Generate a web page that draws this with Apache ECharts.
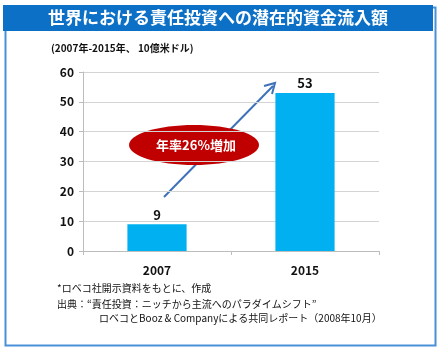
<!DOCTYPE html>
<html><head><meta charset="utf-8">
<script src="https://cdn.jsdelivr.net/npm/echarts@6/dist/echarts.min.js"></script>
<style>html,body{margin:0;padding:0;background:#fff}#c{width:437px;height:351px}</style>
</head><body><div id="c"></div>
<script>
const categories = ['2007', '2015'];
const values = [9, 53];
const yTicks = [0, 10, 20, 30, 40, 50, 60];
const titleText = '世界における責任投資への潜在的資金流入額';
const unitText = '(2007年-2015年、 10億米ドル)';
const badgeText = '年率26%増加';
const notes = ['*ロベコ社開示資料をもとに、作成', '出典：“責任投資：ニッチから主流へのパラダイムシフト”', 'ロベコとBooz & Companyによる共同レポート（2008年10月）'];

const font = '"Noto Sans CJK JP", "Noto Sans", sans-serif';
const chart = echarts.init(document.getElementById('c'));
chart.setOption({
  animation: false,
  grid: {left: 83, right: 58, top: 72, bottom: 100},
  xAxis: {
    type: 'category', data: categories,
    axisLine: {lineStyle: {color: '#bdbdbd', width: 1}},
    axisTick: {show: true, length: 4, lineStyle: {color: '#bdbdbd'}},
    axisLabel: {color: '#111', fontSize: 12, fontWeight: 'bold', margin: 13, fontFamily: font}
  },
  yAxis: {
    type: 'value', min: yTicks[0], max: yTicks[yTicks.length - 1], interval: 10,
    axisLine: {show: true, lineStyle: {color: '#bdbdbd'}},
    axisTick: {show: true, inside: false, length: 4, lineStyle: {color: '#bdbdbd'}},
    splitLine: {lineStyle: {color: '#d4d4d4', width: 1}},
    axisLabel: {color: '#111', fontSize: 12, fontWeight: 'bold', margin: 9, fontFamily: font}
  },
  series: [{
    type: 'bar', data: values, barWidth: '40%',
    itemStyle: {color: '#00b0f0'},
    label: {show: true, position: 'top', color: '#111', fontSize: 13, fontWeight: 'bold', distance: 3, fontFamily: font}
  }],
  graphic: [
    {type: 'rect', left: 3, top: 5, shape: {width: 430, height: 338}, style: {fill: 'none', stroke: '#4a90d9', lineWidth: 2}},
    {type: 'rect', left: 3, top: 5, shape: {width: 430, height: 26}, style: {fill: '#0b70c6'}},
    {type: 'text', x: 218, y: 18, style: {text: titleText, fill: '#fff', font: 'bold 17px ' + font, align: 'center', verticalAlign: 'middle'}},
    {type: 'text', left: 51, top: 43, style: {text: unitText, fill: '#111', font: 'bold 10px ' + font}},
    {type: 'line', shape: {x1: 164, y1: 197, x2: 273, y2: 86}, style: {stroke: '#3e72b8', lineWidth: 2}},
    {type: 'polyline', shape: {points: [[264, 86], [275, 83], [272, 94]]}, style: {stroke: '#3e72b8', lineWidth: 2, fill: 'none'}},
    {type: 'ellipse', shape: {cx: 194, cy: 145, rx: 65, ry: 20}, style: {fill: '#c00000'}},
    {type: 'text', x: 196, y: 145, style: {text: badgeText, fill: '#fff', font: 'bold 13px ' + font, align: 'center', verticalAlign: 'middle'}},
    {type: 'text', left: 57, top: 283, style: {text: notes[0], fill: '#111', font: '10px ' + font}},
    {type: 'text', left: 57, top: 299, style: {text: notes[1], fill: '#111', font: '10px ' + font}},
    {type: 'text', left: 99, top: 313, style: {text: notes[2], fill: '#111', font: '10px ' + font}}
  ]
});
</script></body></html>
